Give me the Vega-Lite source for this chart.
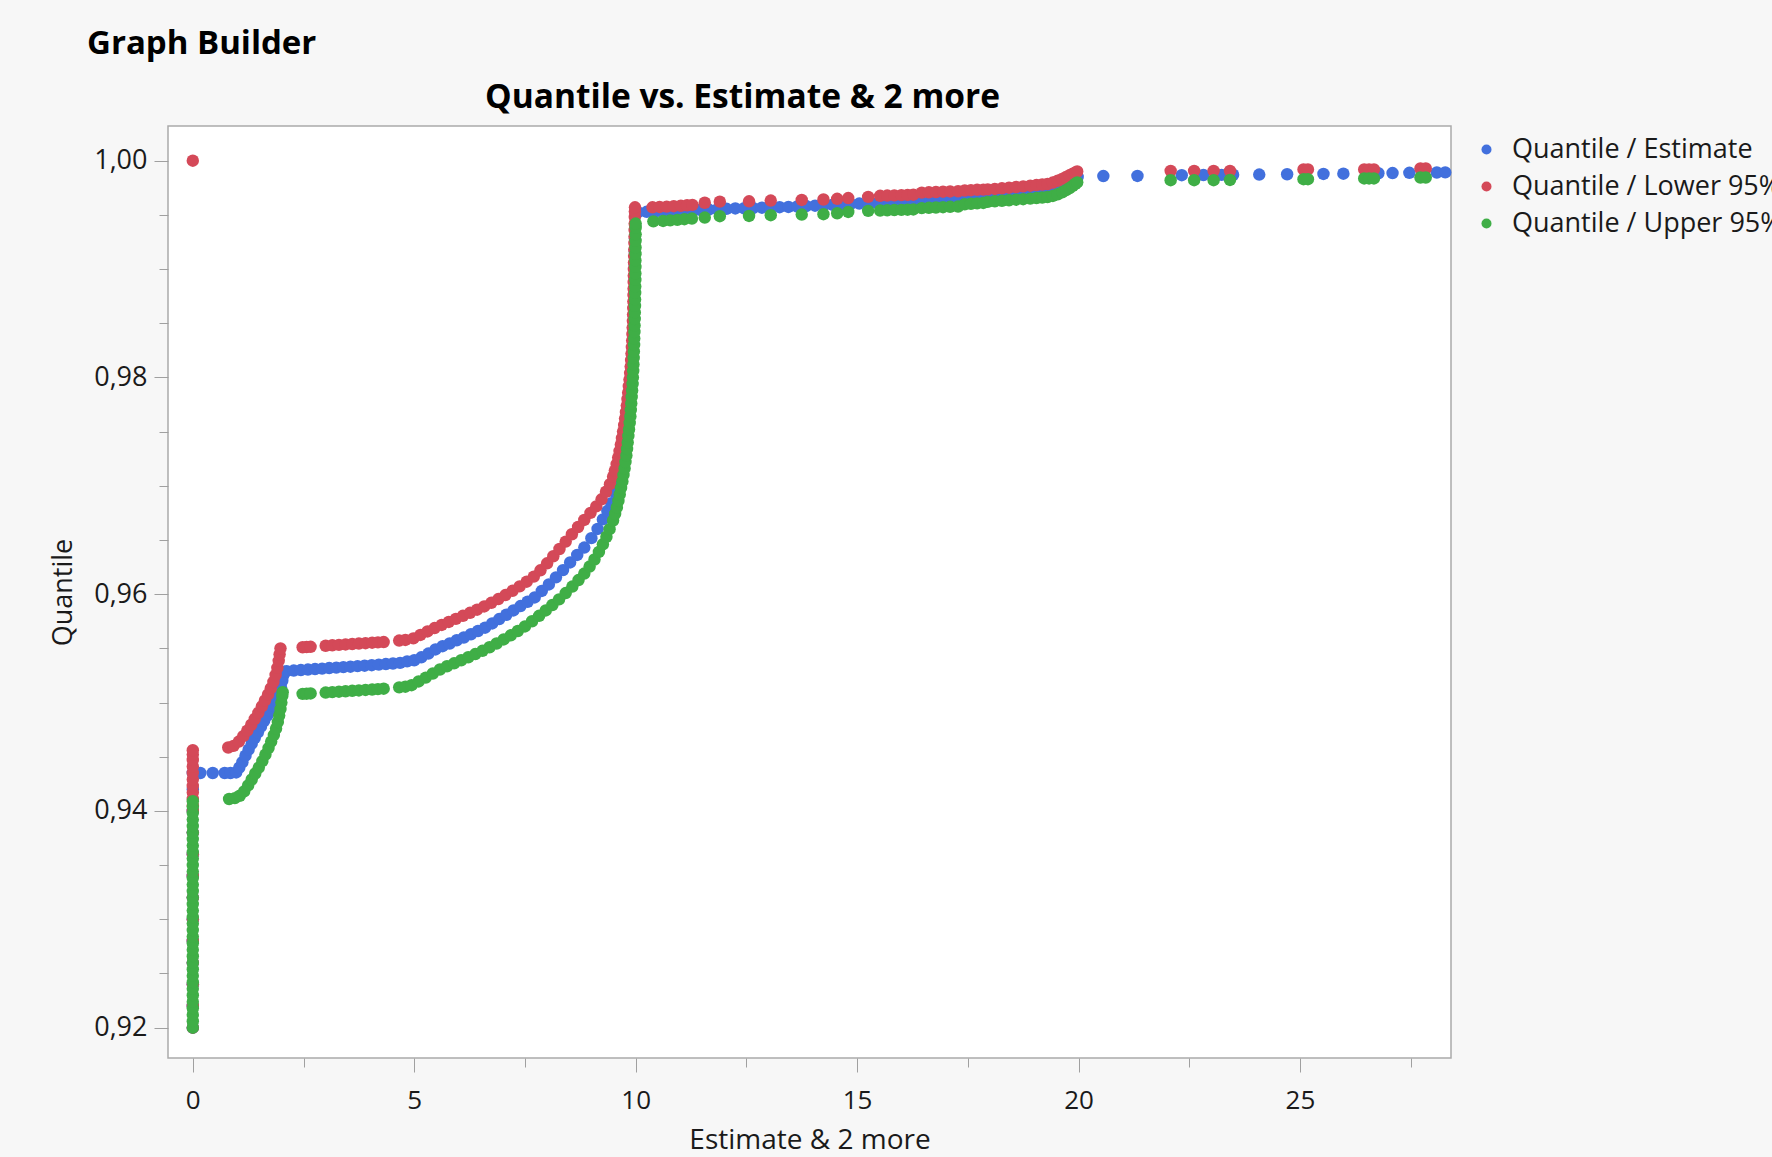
{
  "$schema": "https://vega.github.io/schema/vega-lite/v6.json",
  "width": 1283,
  "height": 932,
  "autosize": {"type": "none"},
  "padding": {"left": 168, "top": 126, "right": 321, "bottom": 99},
  "background": "#f7f7f7",
  "title": {"text": "Graph Builder", "anchor": "start", "frame": "group", "dx": -81, "dy": 37, "fontSize": 33, "fontWeight": "bold", "font": "Open Sans", "color": "#000000", "baseline": "alphabetic", "offset": 30},
  "config": {
    "font": "Open Sans",
    "view": {"fill": "#ffffff", "stroke": "#ababab", "strokeWidth": 1.5}
  },
  "resolve": {"axis": {"x": "independent"}},
  "datasets": {
    "est": [
      {"x":0,"y":0.920},{"x":0,"y":0.922},{"x":0,"y":0.924},{"x":0,"y":0.926},{"x":0,"y":0.928},{"x":0,"y":0.930},{"x":0,"y":0.932},{"x":0,"y":0.934},{"x":0,"y":0.936},{"x":0,"y":0.938},{"x":0,"y":0.940},{"x":0,"y":0.942},{"x":0,"y":0.9435},
      {"x":0.17,"y":0.9435},{"x":0.45,"y":0.9435},{"x":0.72,"y":0.9435},{"x":0.85,"y":0.9435},{"x":0.98,"y":0.94355},
      {"x":1.05,"y":0.944},{"x":1.12,"y":0.9445},{"x":1.19,"y":0.9451},{"x":1.26,"y":0.94565},{"x":1.33,"y":0.9462},{"x":1.40,"y":0.94675},{"x":1.47,"y":0.94725},{"x":1.54,"y":0.94778},{"x":1.61,"y":0.9483},{"x":1.68,"y":0.9488},{"x":1.75,"y":0.94925},{"x":1.82,"y":0.9497},{"x":1.89,"y":0.95018},{"x":1.95,"y":0.9508},{"x":1.99,"y":0.9514},{"x":2.02,"y":0.952},{"x":2.04,"y":0.9525},{"x":2.07,"y":0.95285},
      {"x":2.12,"y":0.9529},{"x":2.28,"y":0.95295},{"x":2.44,"y":0.953},{"x":2.60,"y":0.95304},{"x":2.76,"y":0.95309},{"x":2.92,"y":0.95313},{"x":3.08,"y":0.95318},{"x":3.24,"y":0.95322},{"x":3.40,"y":0.95327},{"x":3.56,"y":0.95331},{"x":3.72,"y":0.95336},{"x":3.88,"y":0.9534},{"x":4.04,"y":0.95345},{"x":4.20,"y":0.9535},{"x":4.36,"y":0.95355},{"x":4.52,"y":0.9536},{"x":4.68,"y":0.95366},
      {"x":4.84,"y":0.9538},{"x":5.00,"y":0.9539},{"x":5.16,"y":0.95417},{"x":5.32,"y":0.95452},{"x":5.48,"y":0.9549},{"x":5.64,"y":0.9552},{"x":5.80,"y":0.95545},{"x":5.96,"y":0.95575},{"x":6.12,"y":0.956},{"x":6.28,"y":0.9563},{"x":6.44,"y":0.9566},{"x":6.60,"y":0.95691},{"x":6.76,"y":0.9573},{"x":6.92,"y":0.9577},{"x":7.08,"y":0.9581},{"x":7.24,"y":0.9585},{"x":7.40,"y":0.9589},{"x":7.56,"y":0.9593},{"x":7.72,"y":0.9597},{"x":7.88,"y":0.9603},{"x":8.04,"y":0.9609},{"x":8.20,"y":0.96155},{"x":8.36,"y":0.96222},{"x":8.52,"y":0.96293},{"x":8.68,"y":0.96362},{"x":8.84,"y":0.9643},{"x":9.00,"y":0.96517},{"x":9.14,"y":0.96602},{"x":9.26,"y":0.9669},{"x":9.36,"y":0.96767},{"x":9.45,"y":0.9684},{"x":9.53,"y":0.9694},
      {"x":9.575,"y":0.9703},{"x":9.62,"y":0.9712},{"x":9.68,"y":0.9724},{"x":9.73,"y":0.9736},{"x":9.77,"y":0.9748},{"x":9.81,"y":0.976},{"x":9.84,"y":0.9772},{"x":9.87,"y":0.9784},{"x":9.895,"y":0.9796},{"x":9.915,"y":0.9808},{"x":9.93,"y":0.982},{"x":9.943,"y":0.9832},{"x":9.952,"y":0.9844},{"x":9.96,"y":0.9856},{"x":9.966,"y":0.9868},{"x":9.97,"y":0.988},{"x":9.975,"y":0.9892},{"x":9.978,"y":0.9904},{"x":9.98,"y":0.9916},{"x":9.985,"y":0.9928},{"x":9.99,"y":0.994},{"x":10.0,"y":0.995},
      {"x":10.05,"y":0.99525},{"x":10.25,"y":0.99528},{"x":10.45,"y":0.99531},{"x":10.65,"y":0.99534},{"x":10.85,"y":0.99537},{"x":11.05,"y":0.9954},{"x":11.25,"y":0.99543},{"x":11.45,"y":0.99546},{"x":11.65,"y":0.99549},{"x":11.85,"y":0.99552},{"x":12.05,"y":0.99556},{"x":12.25,"y":0.99559},{"x":12.45,"y":0.99561},{"x":12.65,"y":0.99563},{"x":12.85,"y":0.99566},{"x":13.05,"y":0.99568},{"x":13.25,"y":0.99571},{"x":13.45,"y":0.99573},{"x":13.65,"y":0.99577},{"x":13.85,"y":0.99581},{"x":14.05,"y":0.99585},{"x":14.25,"y":0.99589},{"x":14.45,"y":0.99593},{"x":14.65,"y":0.99597},{"x":14.85,"y":0.99601},{"x":15.05,"y":0.99604},{"x":15.25,"y":0.99606},{"x":15.45,"y":0.99608},{"x":15.65,"y":0.9961},{"x":15.85,"y":0.99613},{"x":16.05,"y":0.99616},{"x":16.25,"y":0.99619},{"x":16.45,"y":0.99622},{"x":16.65,"y":0.99625},{"x":16.85,"y":0.99628},{"x":17.05,"y":0.99631},{"x":17.25,"y":0.99634},{"x":17.45,"y":0.99638},{"x":17.65,"y":0.99644},{"x":17.85,"y":0.99652},{"x":18.05,"y":0.99668},{"x":18.25,"y":0.99682},{"x":18.45,"y":0.99693},{"x":18.65,"y":0.99702},{"x":18.85,"y":0.99709},{"x":19.05,"y":0.99715},{"x":19.25,"y":0.99722},{"x":19.40,"y":0.99732},{"x":19.55,"y":0.99752},{"x":19.68,"y":0.99778},{"x":19.80,"y":0.99805},{"x":19.90,"y":0.9983},{"x":19.98,"y":0.9985},
      {"x":20.56,"y":0.99858},{"x":21.33,"y":0.99859},{"x":22.33,"y":0.99866},{"x":22.82,"y":0.99868},{"x":23.23,"y":0.99869},{"x":23.49,"y":0.9987},{"x":24.08,"y":0.99872},{"x":24.71,"y":0.99875},{"x":25.53,"y":0.99878},{"x":25.98,"y":0.9988},{"x":26.77,"y":0.99884},{"x":27.09,"y":0.99886},{"x":27.47,"y":0.99888},{"x":28.09,"y":0.99891},{"x":28.28,"y":0.99892}
    ],
    "low": [
      {"x":0,"y":1.0},
      {"x":0,"y":0.920},{"x":0,"y":0.922},{"x":0,"y":0.924},{"x":0,"y":0.926},{"x":0,"y":0.928},{"x":0,"y":0.930},{"x":0,"y":0.932},{"x":0,"y":0.934},{"x":0,"y":0.936},{"x":0,"y":0.938},{"x":0,"y":0.940},{"x":0,"y":0.9405},{"x":0,"y":0.9411},{"x":0,"y":0.9417},{"x":0,"y":0.9423},{"x":0,"y":0.9429},{"x":0,"y":0.9435},{"x":0,"y":0.9441},{"x":0,"y":0.9447},{"x":0,"y":0.9452},{"x":0,"y":0.9456},
      {"x":0.80,"y":0.94585},{"x":0.92,"y":0.946},{"x":1.04,"y":0.9464},{"x":1.14,"y":0.9469},{"x":1.23,"y":0.9474},{"x":1.32,"y":0.94795},{"x":1.40,"y":0.9485},{"x":1.48,"y":0.94905},{"x":1.56,"y":0.94965},{"x":1.63,"y":0.9502},{"x":1.70,"y":0.95075},{"x":1.76,"y":0.9513},{"x":1.82,"y":0.9519},{"x":1.87,"y":0.95255},{"x":1.91,"y":0.9532},{"x":1.94,"y":0.95385},{"x":1.96,"y":0.95445},{"x":1.98,"y":0.955},
      {"x":2.48,"y":0.9551},{"x":2.57,"y":0.95512},{"x":2.66,"y":0.95514},
      {"x":3.00,"y":0.95524},{"x":3.15,"y":0.95528},{"x":3.30,"y":0.95532},{"x":3.45,"y":0.95536},{"x":3.60,"y":0.9554},{"x":3.75,"y":0.95544},{"x":3.90,"y":0.95548},{"x":4.05,"y":0.95552},{"x":4.18,"y":0.95555},{"x":4.31,"y":0.95558},
      {"x":4.66,"y":0.95572},{"x":4.80,"y":0.95578},
      {"x":4.98,"y":0.95592},{"x":5.14,"y":0.95624},{"x":5.30,"y":0.95656},{"x":5.46,"y":0.95687},{"x":5.62,"y":0.95716},{"x":5.78,"y":0.95744},{"x":5.94,"y":0.95772},{"x":6.10,"y":0.958},{"x":6.26,"y":0.95828},{"x":6.42,"y":0.95857},{"x":6.58,"y":0.95887},{"x":6.74,"y":0.9592},{"x":6.90,"y":0.95955},{"x":7.06,"y":0.95992},{"x":7.22,"y":0.96031},{"x":7.38,"y":0.96072},{"x":7.54,"y":0.96115},{"x":7.70,"y":0.96162},{"x":7.85,"y":0.9622},{"x":8.00,"y":0.96285},{"x":8.14,"y":0.9635},{"x":8.28,"y":0.96417},{"x":8.42,"y":0.96485},{"x":8.56,"y":0.96553},{"x":8.70,"y":0.9662},{"x":8.84,"y":0.96685},{"x":8.98,"y":0.9675},{"x":9.11,"y":0.9681},{"x":9.23,"y":0.96875},{"x":9.33,"y":0.96945},{"x":9.42,"y":0.97015},{"x":9.49,"y":0.97085},
      {"x":9.53,"y":0.9714},{"x":9.57,"y":0.972},{"x":9.605,"y":0.9726},{"x":9.635,"y":0.9732},{"x":9.665,"y":0.9738},{"x":9.69,"y":0.9744},{"x":9.715,"y":0.975},{"x":9.74,"y":0.9756},{"x":9.76,"y":0.9762},{"x":9.78,"y":0.9768},{"x":9.80,"y":0.9774},{"x":9.815,"y":0.978},{"x":9.83,"y":0.9786},{"x":9.845,"y":0.9792},{"x":9.86,"y":0.9798},{"x":9.875,"y":0.9804},{"x":9.887,"y":0.981},{"x":9.897,"y":0.9816},{"x":9.906,"y":0.9822},{"x":9.914,"y":0.9828},{"x":9.921,"y":0.9834},{"x":9.927,"y":0.984},{"x":9.932,"y":0.9846},{"x":9.937,"y":0.9852},{"x":9.941,"y":0.9858},{"x":9.945,"y":0.9864},{"x":9.948,"y":0.987},{"x":9.951,"y":0.9876},{"x":9.953,"y":0.9882},{"x":9.955,"y":0.9888},{"x":9.957,"y":0.9894},{"x":9.959,"y":0.99},{"x":9.962,"y":0.9906},{"x":9.965,"y":0.9912},{"x":9.968,"y":0.9918},{"x":9.971,"y":0.9924},{"x":9.974,"y":0.993},{"x":9.976,"y":0.9936},{"x":9.978,"y":0.9942},{"x":9.98,"y":0.9948},{"x":9.982,"y":0.9953},{"x":9.985,"y":0.9957},
      {"x":10.38,"y":0.9957},{"x":10.54,"y":0.99573},{"x":10.70,"y":0.99576},{"x":10.86,"y":0.9958},{"x":11.02,"y":0.99584},{"x":11.16,"y":0.99588},{"x":11.28,"y":0.99592},{"x":11.56,"y":0.99612},{"x":11.90,"y":0.99622},{"x":12.56,"y":0.99625},{"x":13.05,"y":0.99632},{"x":13.75,"y":0.99638},{"x":14.24,"y":0.99642},{"x":14.55,"y":0.99648},{"x":14.80,"y":0.99655},{"x":15.25,"y":0.99666},
      {"x":15.52,"y":0.99676},{"x":15.68,"y":0.99678},{"x":15.84,"y":0.9968},{"x":16.00,"y":0.99682},{"x":16.14,"y":0.99684},{"x":16.27,"y":0.99686},
      {"x":16.46,"y":0.99705},{"x":16.62,"y":0.99708},{"x":16.78,"y":0.99711},{"x":16.94,"y":0.99714},{"x":17.10,"y":0.99716},{"x":17.28,"y":0.99718},
      {"x":17.43,"y":0.99725},{"x":17.57,"y":0.99728},{"x":17.71,"y":0.99731},{"x":17.85,"y":0.99733},
      {"x":17.95,"y":0.99735},{"x":18.11,"y":0.99739},{"x":18.27,"y":0.99745},{"x":18.43,"y":0.99751},{"x":18.59,"y":0.99757},{"x":18.75,"y":0.99763},{"x":18.91,"y":0.99769},{"x":19.05,"y":0.99775},{"x":19.18,"y":0.9978},{"x":19.30,"y":0.99785},{"x":19.42,"y":0.99798},{"x":19.53,"y":0.99815},{"x":19.63,"y":0.99832},{"x":19.72,"y":0.9985},{"x":19.80,"y":0.99866},{"x":19.87,"y":0.9988},{"x":19.93,"y":0.99892},{"x":19.97,"y":0.999},
      {"x":22.08,"y":0.99906},{"x":22.61,"y":0.99906},{"x":23.05,"y":0.99906},{"x":23.42,"y":0.99906},{"x":25.08,"y":0.99919},{"x":25.18,"y":0.99919},{"x":26.45,"y":0.99919},{"x":26.56,"y":0.99919},{"x":26.67,"y":0.99919},{"x":27.72,"y":0.99928},{"x":27.84,"y":0.99928}
    ],
    "upp": [
      {"x":0,"y":0.9200},{"x":0,"y":0.9206},{"x":0,"y":0.9212},{"x":0,"y":0.9218},{"x":0,"y":0.9224},{"x":0,"y":0.9230},{"x":0,"y":0.9236},{"x":0,"y":0.9242},{"x":0,"y":0.9248},{"x":0,"y":0.9254},{"x":0,"y":0.9260},{"x":0,"y":0.9266},{"x":0,"y":0.9272},{"x":0,"y":0.9278},{"x":0,"y":0.9284},{"x":0,"y":0.9290},{"x":0,"y":0.9296},{"x":0,"y":0.9302},{"x":0,"y":0.9308},{"x":0,"y":0.9314},{"x":0,"y":0.9320},{"x":0,"y":0.9326},{"x":0,"y":0.9332},{"x":0,"y":0.9338},{"x":0,"y":0.9344},{"x":0,"y":0.9350},{"x":0,"y":0.9356},{"x":0,"y":0.9362},{"x":0,"y":0.9368},{"x":0,"y":0.9374},{"x":0,"y":0.9380},{"x":0,"y":0.9386},{"x":0,"y":0.9392},{"x":0,"y":0.9398},{"x":0,"y":0.9404},{"x":0,"y":0.9409},
      {"x":0.82,"y":0.9411},{"x":0.95,"y":0.94118},{"x":1.06,"y":0.9414},{"x":1.16,"y":0.9418},{"x":1.25,"y":0.94235},{"x":1.33,"y":0.9429},{"x":1.41,"y":0.94345},{"x":1.49,"y":0.944},{"x":1.57,"y":0.9446},{"x":1.64,"y":0.9452},{"x":1.71,"y":0.9458},{"x":1.77,"y":0.9464},{"x":1.83,"y":0.947},{"x":1.88,"y":0.9476},{"x":1.92,"y":0.9482},{"x":1.95,"y":0.9488},{"x":1.98,"y":0.9494},{"x":2.00,"y":0.95},{"x":2.02,"y":0.9506},{"x":2.03,"y":0.95095},
      {"x":2.48,"y":0.9508},{"x":2.57,"y":0.95082},{"x":2.66,"y":0.95084},
      {"x":3.00,"y":0.95092},{"x":3.15,"y":0.95096},{"x":3.30,"y":0.951},{"x":3.45,"y":0.95104},{"x":3.60,"y":0.95108},{"x":3.75,"y":0.95112},{"x":3.90,"y":0.95116},{"x":4.05,"y":0.9512},{"x":4.18,"y":0.95124},{"x":4.31,"y":0.95128},
      {"x":4.66,"y":0.9514},{"x":4.80,"y":0.95146},
      {"x":4.94,"y":0.9516},{"x":5.10,"y":0.95195},{"x":5.26,"y":0.9523},{"x":5.42,"y":0.95268},{"x":5.58,"y":0.95305},{"x":5.74,"y":0.95335},{"x":5.90,"y":0.95362},{"x":6.06,"y":0.9539},{"x":6.22,"y":0.95418},{"x":6.38,"y":0.95447},{"x":6.54,"y":0.95477},{"x":6.70,"y":0.9551},{"x":6.86,"y":0.95545},{"x":7.02,"y":0.95582},{"x":7.18,"y":0.9562},{"x":7.34,"y":0.9566},{"x":7.50,"y":0.95702},{"x":7.66,"y":0.9575},{"x":7.82,"y":0.958},{"x":7.97,"y":0.9585},{"x":8.12,"y":0.959},{"x":8.27,"y":0.95952},{"x":8.42,"y":0.9601},{"x":8.57,"y":0.9607},{"x":8.71,"y":0.9613},{"x":8.84,"y":0.9619},{"x":8.96,"y":0.96255},{"x":9.07,"y":0.9632},{"x":9.17,"y":0.9639},{"x":9.26,"y":0.9646},{"x":9.34,"y":0.9653},{"x":9.41,"y":0.966},
      {"x":9.49,"y":0.9668},{"x":9.535,"y":0.9674},{"x":9.575,"y":0.968},{"x":9.61,"y":0.9686},{"x":9.64,"y":0.9692},{"x":9.67,"y":0.9698},{"x":9.70,"y":0.9704},{"x":9.725,"y":0.971},{"x":9.75,"y":0.9716},{"x":9.77,"y":0.9722},{"x":9.79,"y":0.9728},{"x":9.805,"y":0.9734},{"x":9.82,"y":0.974},{"x":9.835,"y":0.9746},{"x":9.85,"y":0.9752},{"x":9.865,"y":0.9758},{"x":9.88,"y":0.9764},{"x":9.89,"y":0.977},{"x":9.90,"y":0.9776},{"x":9.91,"y":0.9782},{"x":9.92,"y":0.9788},{"x":9.93,"y":0.9794},{"x":9.937,"y":0.98},{"x":9.944,"y":0.9806},{"x":9.95,"y":0.9812},{"x":9.955,"y":0.9818},{"x":9.96,"y":0.9824},{"x":9.964,"y":0.983},{"x":9.968,"y":0.9836},{"x":9.972,"y":0.9842},{"x":9.975,"y":0.9848},{"x":9.978,"y":0.9854},{"x":9.981,"y":0.986},{"x":9.984,"y":0.9866},{"x":9.986,"y":0.9872},{"x":9.988,"y":0.9878},{"x":9.99,"y":0.9884},{"x":9.992,"y":0.989},{"x":9.993,"y":0.9896},{"x":9.994,"y":0.9902},{"x":9.995,"y":0.9908},{"x":9.996,"y":0.9914},{"x":9.997,"y":0.992},{"x":9.998,"y":0.9926},{"x":9.999,"y":0.9932},{"x":10.0,"y":0.9938},{"x":10.0,"y":0.9942},
      {"x":10.40,"y":0.9944},{"x":10.62,"y":0.99444},{"x":10.78,"y":0.99449},{"x":10.94,"y":0.99454},{"x":11.10,"y":0.9946},{"x":11.27,"y":0.99466},{"x":11.56,"y":0.99475},{"x":11.90,"y":0.99488},{"x":12.56,"y":0.9949},{"x":13.05,"y":0.99497},{"x":13.75,"y":0.99503},{"x":14.24,"y":0.99506},{"x":14.55,"y":0.99515},{"x":14.80,"y":0.99527},{"x":15.25,"y":0.99537},
      {"x":15.52,"y":0.9954},{"x":15.68,"y":0.99542},{"x":15.84,"y":0.99544},{"x":16.00,"y":0.99546},{"x":16.14,"y":0.99548},{"x":16.27,"y":0.9955},
      {"x":16.46,"y":0.99562},{"x":16.62,"y":0.99565},{"x":16.78,"y":0.99568},{"x":16.94,"y":0.99571},{"x":17.10,"y":0.99574},{"x":17.28,"y":0.99577},
      {"x":17.43,"y":0.99598},{"x":17.57,"y":0.99602},{"x":17.71,"y":0.99606},{"x":17.85,"y":0.9961},
      {"x":17.95,"y":0.9962},{"x":18.11,"y":0.99625},{"x":18.27,"y":0.9963},{"x":18.43,"y":0.99635},{"x":18.59,"y":0.9964},{"x":18.75,"y":0.99645},{"x":18.91,"y":0.9965},{"x":19.05,"y":0.99655},{"x":19.18,"y":0.9966},{"x":19.30,"y":0.99665},{"x":19.42,"y":0.99675},{"x":19.53,"y":0.9969},{"x":19.63,"y":0.99708},{"x":19.72,"y":0.99728},{"x":19.80,"y":0.99748},{"x":19.87,"y":0.99768},{"x":19.93,"y":0.99787},{"x":19.97,"y":0.998},
      {"x":22.08,"y":0.9982},{"x":22.61,"y":0.9982},{"x":23.05,"y":0.9982},{"x":23.42,"y":0.99822},{"x":25.08,"y":0.99829},{"x":25.18,"y":0.99829},{"x":26.45,"y":0.99836},{"x":26.56,"y":0.99836},{"x":26.67,"y":0.99836},{"x":27.72,"y":0.99845},{"x":27.84,"y":0.99845}
    ]
  },
  "layer": [
    {
      "data": {"name": "est"},
      "mark": {"type": "circle", "size": 155, "opacity": 1},
      "encoding": {
        "x": {"field": "x", "type": "quantitative",
          "scale": {"domain": [-0.56, 28.41], "nice": false, "zero": false},
          "axis": {"orient": "bottom", "title": "Estimate & 2 more", "values": [0,2.5,5,7.5,10,12.5,15,17.5,20,22.5,25,27.5],
            "labelExpr": "datum.value % 5 == 0 ? datum.label : ''",
            "tickSize": {"condition": {"test": "datum.value % 5 == 0", "value": 14}, "value": 9},
            "domain": false, "grid": false, "tickColor": "#a0a0a0", "tickWidth": 1,
            "labelFontSize": 26, "labelColor": "#1a1a1a", "labelPadding": 15, "labelOverlap": false, "labelFlush": false,
            "titleFontSize": 28, "titleFontWeight": "normal", "titleColor": "#1a1a1a", "titlePadding": 13}},
        "y": {"field": "y", "type": "quantitative",
          "scale": {"domain": [0.9172, 1.0032], "nice": false, "zero": false},
          "axis": {"title": "Quantile", "values": [0.92,0.925,0.93,0.935,0.94,0.945,0.95,0.955,0.96,0.965,0.97,0.975,0.98,0.985,0.99,0.995,1.0],
            "labelExpr": "abs(datum.value*50 - round(datum.value*50)) < 0.01 ? replace(format(datum.value, '.2f'), '.', ',') : ''",
            "tickSize": {"condition": {"test": "abs(datum.value*50 - round(datum.value*50)) < 0.01", "value": 14}, "value": 9},
            "domain": false, "grid": false, "tickColor": "#a0a0a0", "tickWidth": 1,
            "labelFontSize": 27, "labelColor": "#1a1a1a", "labelPadding": 7, "labelOverlap": false, "labelFlush": false,
            "titleFontSize": 27, "titleFontWeight": "normal", "titleColor": "#1a1a1a", "titlePadding": 16}},
        "color": {"datum": "Quantile / Estimate", "type": "nominal",
          "scale": {"domain": ["Quantile / Estimate", "Quantile / Lower 95%", "Quantile / Upper 95%"], "range": ["#4270dd", "#d44958", "#3fae46"]},
          "legend": {"orient": "none", "legendX": 1305, "legendY": 10, "title": null, "padding": 0,
            "labelFontSize": 27, "labelColor": "#1a1a1a", "labelLimit": 800, "labelOffset": 12,
            "symbolType": "circle", "symbolSize": 100, "symbolOpacity": 1, "symbolStrokeWidth": 0, "rowPadding": 9}}
      }
    },
    {
      "data": {"name": "low"},
      "mark": {"type": "circle", "size": 155, "opacity": 1},
      "encoding": {
        "x": {"field": "x", "type": "quantitative",
          "scale": {"domain": [-0.56, 28.41], "nice": false, "zero": false},
          "axis": {"orient": "top", "title": "Quantile vs. Estimate & 2 more", "labels": false, "ticks": false, "domain": false, "grid": false,
            "titleFontSize": 33.5, "titleFontWeight": "bold", "titleColor": "#000000", "titleX": 574, "titleY": -19, "titleBaseline": "alphabetic", "titleAlign": "center"}},
        "y": {"field": "y", "type": "quantitative", "scale": {"domain": [0.9172, 1.0032], "nice": false, "zero": false}, "title": "Quantile"},
        "color": {"datum": "Quantile / Lower 95%", "type": "nominal"}
      }
    },
    {
      "data": {"name": "upp"},
      "mark": {"type": "circle", "size": 155, "opacity": 1},
      "encoding": {
        "x": {"field": "x", "type": "quantitative", "scale": {"domain": [-0.56, 28.41], "nice": false, "zero": false}, "axis": null},
        "y": {"field": "y", "type": "quantitative", "scale": {"domain": [0.9172, 1.0032], "nice": false, "zero": false}, "title": "Quantile"},
        "color": {"datum": "Quantile / Upper 95%", "type": "nominal"}
      }
    }
  ]
}
